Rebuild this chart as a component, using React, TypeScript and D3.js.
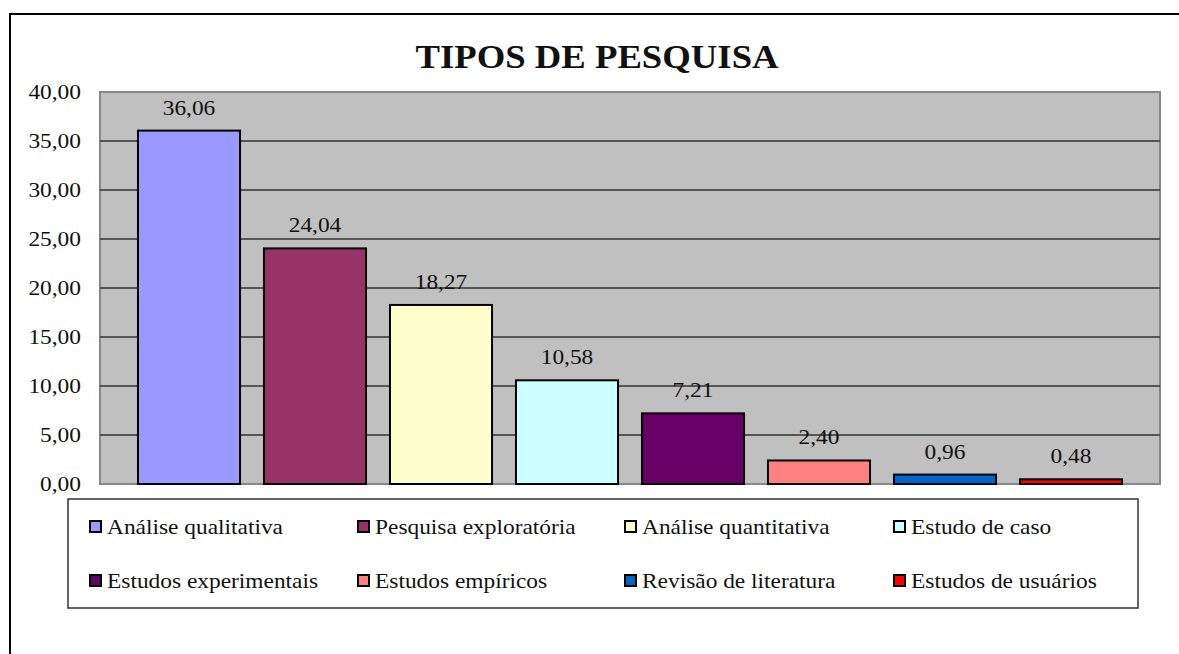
import React from "react";
import * as d3 from "d3";

const categories = [
  "Análise qualitativa",
  "Pesquisa exploratória",
  "Análise quantitativa",
  "Estudo de caso",
  "Estudos experimentais",
  "Estudos empíricos",
  "Revisão de literatura",
  "Estudos de usuários",
];
const values = [36.06, 24.04, 18.27, 10.58, 7.21, 2.4, 0.96, 0.48];
const colors = ["#9999FF", "#993366", "#FFFFCC", "#CCFFFF", "#660066", "#FF8080", "#0066CC", "#FF0000"];
const yTicks = [0, 5, 10, 15, 20, 25, 30, 35, 40];
const title = "TIPOS DE PESQUISA";

const fmt = (v: number) => v.toFixed(2).replace(".", ",");
const font = "Liberation Serif, DejaVu Serif, serif";

function T(props: { x: number; y: number; sx?: number; size?: number; anchor?: string; bold?: boolean; children: React.ReactNode }) {
  const { x, y, sx = 1.17, size = 20, anchor = "start", bold = false } = props;
  return (
    <text
      transform={`translate(${x},${y}) scale(${sx},1)`}
      textAnchor={anchor as any}
      fontSize={size}
      fontWeight={bold ? "bold" : "normal"}
      fill="#111"
      style={{ fontFamily: font }}
    >
      {props.children}
    </text>
  );
}

export default function App() {
  const W = 1179, H = 654;
  const plot = { left: 100, right: 1160, top: 92, bottom: 484 };
  const y = d3.scaleLinear().domain([0, 40]).range([plot.bottom, plot.top]);
  const x = d3.scaleBand<string>().domain(categories).range([126, 1134]).paddingInner(0.19).paddingOuter(0.095);
  const legendCols = [89, 357, 624, 893];
  const legendRows = [534, 588];
  return (
    <svg width={W} height={H} style={{ position: "absolute", left: 0, top: 0, background: "#fff", fontFamily: font }}>
      <rect x={10} y={14} width={1200} height={700} fill="#fff" stroke="#000" strokeWidth={2} />
      <T x={597} y={68} size={34} sx={1.08} anchor="middle" bold>{title}</T>
      <rect x={plot.left} y={plot.top} width={plot.right - plot.left} height={plot.bottom - plot.top} fill="#C0C0C0" stroke="#888" strokeWidth={2} />
      {yTicks.map((t) => (
        <g key={t}>
          {t > 0 && t < 40 && (
            <line x1={plot.left} x2={plot.right} y1={y(t)} y2={y(t)} stroke="#333" strokeWidth={1.5} />
          )}
          <T x={81} y={y(t) + 7} anchor="end">{fmt(t)}</T>
        </g>
      ))}
      {categories.map((c, i) => (
        <g key={c}>
          <rect x={x(c)!} y={y(values[i])} width={x.bandwidth()} height={plot.bottom - y(values[i])} fill={colors[i]} stroke="#000" strokeWidth={2} />
          <T x={x(c)! + x.bandwidth() / 2} y={y(values[i]) - 16} anchor="middle">{fmt(values[i])}</T>
        </g>
      ))}
      <rect x={68} y={499} width={1070} height={109} fill="#fff" stroke="#333" strokeWidth={1.5} />
      {categories.map((c, i) => {
        const cx = legendCols[i % 4];
        const cy = legendRows[Math.floor(i / 4)];
        return (
          <g key={"l" + c}>
            <rect x={cx + 1} y={cy - 13} width={11} height={11} fill={colors[i]} stroke="#000" strokeWidth={2} />
            <T x={cx + 18} y={cy}>{c}</T>
          </g>
        );
      })}
    </svg>
  );
}
